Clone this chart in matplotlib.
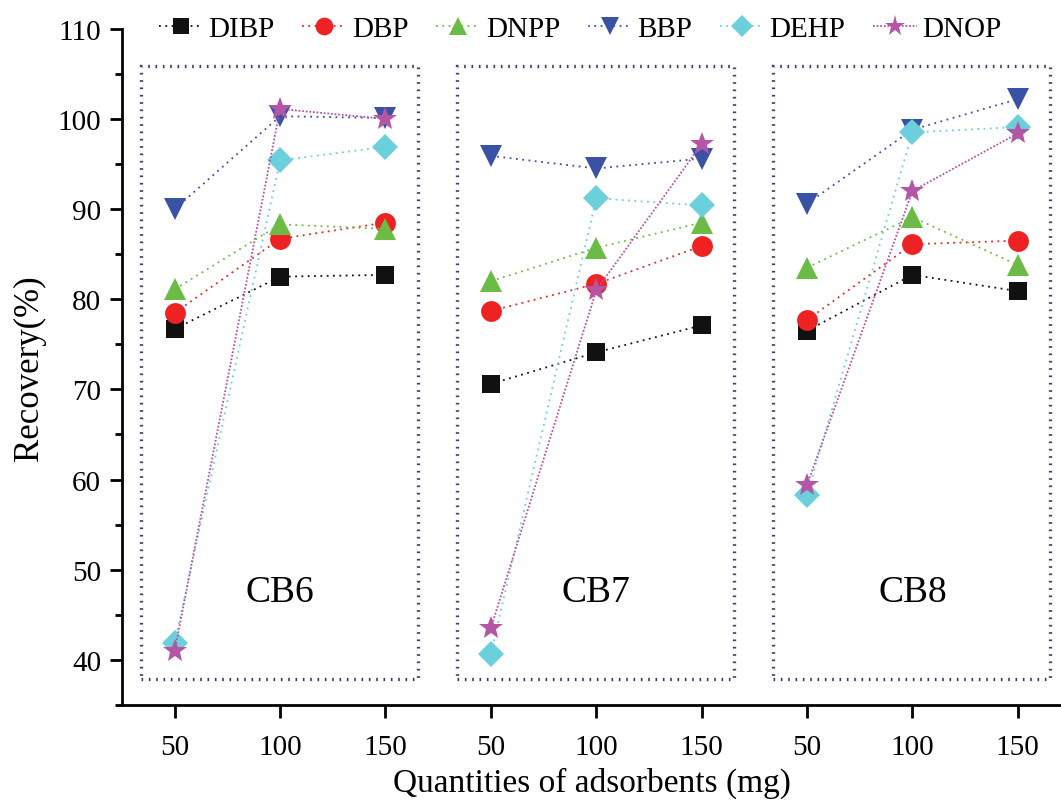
import matplotlib.pyplot as plt
from matplotlib.patches import Rectangle
from matplotlib.ticker import MultipleLocator

plt.rcParams["font.family"] = ["Liberation Serif", "DejaVu Serif"]

QUANTITIES = ["50", "100", "150"]
GROUPS = ["CB6", "CB7", "CB8"]
SERIES = ["DIBP", "DBP", "DNPP", "BBP", "DEHP", "DNOP"]

# recovery (%) per series, per group (50, 100, 150 mg)
DIBP = [[76.7, 82.5, 82.7], [70.6, 74.1, 77.1], [76.5, 82.7, 80.9]]
DBP = [[78.5, 86.7, 88.5], [78.7, 81.7, 85.9], [77.7, 86.1, 86.5]]
DNPP = [[81.1, 88.3, 87.8], [82.0, 85.7, 88.5], [83.5, 89.1, 83.8]]
BBP = [[90.0, 100.3, 100.1], [95.9, 94.5, 95.6], [90.6, 98.8, 102.2]]
DEHP = [[41.9, 95.4, 96.9], [40.7, 91.2, 90.4], [58.3, 98.5, 99.1]]
DNOP = [[41.0, 101.1, 100.0], [43.5, 81.0, 97.2], [59.4, 92.0, 98.4]]

VALUES = [DIBP, DBP, DNPP, BBP, DEHP, DNOP]
COLORS = ["#111111", "#ee2222", "#6cbb46", "#3a52a4", "#6ccfdc", "#b455a5"]
MARKERS = ["s", "o", "^", "v", "D", "*"]
SIZES = [13, 15, 16, 16, 13, 18]

fig = plt.figure(figsize=(10.61, 8.04), dpi=100)
ax = fig.add_axes([0.115, 0.122, 0.885, 0.841])

for name, groups, color, marker, size in zip(SERIES, VALUES, COLORS, MARKERS, SIZES):
    for g, vals in enumerate(groups):
        xs = [g * 3 + i + 1 for i in range(len(vals))]
        ax.plot(
            xs, vals,
            linestyle=(0, (1, 2.5)) if name != "DNOP" else (0, (1, 1)),
            linewidth=1.3,
            color=color,
            marker=marker,
            markersize=size,
            markeredgewidth=0,
            label=name if g == 0 else None,
        )

# dotted panel boxes around each group
for g, label in enumerate(GROUPS):
    left = g * 3 + 0.68
    ax.add_patch(Rectangle((left, 37.9), 2.63, 68.0, fill=False,
                           edgecolor="#4b3a6b", linewidth=2.4,
                           linestyle=(0, (0.5, 1.7)), zorder=1))
    ax.text(g * 3 + 2, 47.5, label, ha="center", va="center", fontsize=27)

ax.set_xlim(0.5, 9.41)
ax.set_ylim(35, 110)
ax.set_xticks(range(1, 10))
ax.set_xticklabels(QUANTITIES * 3)
ax.yaxis.set_major_locator(MultipleLocator(10))
ax.yaxis.set_minor_locator(MultipleLocator(5))
ax.set_yticks(range(40, 111, 10))
ax.tick_params(axis="both", which="major", direction="out", length=9, width=2, labelsize=21)
ax.tick_params(axis="y", which="minor", direction="out", length=5, width=2)
ax.tick_params(axis="x", pad=12)
ax.tick_params(axis="y", pad=6)
for side in ["top", "right"]:
    ax.spines[side].set_visible(False)
for side in ["left", "bottom"]:
    ax.spines[side].set_linewidth(2)

ax.set_ylabel("Recovery(%)", fontsize=25, labelpad=8)
ax.set_xlabel("Quantities of adsorbents (mg)", fontsize=24, labelpad=5)

fig.legend(loc="upper left", bbox_to_anchor=(0.125, 1.012), ncol=6, frameon=False,
           fontsize=21, handlelength=1.5, handletextpad=0.2, columnspacing=0.95,
           markerscale=0.85)

fig.savefig("out.png", dpi=100)
